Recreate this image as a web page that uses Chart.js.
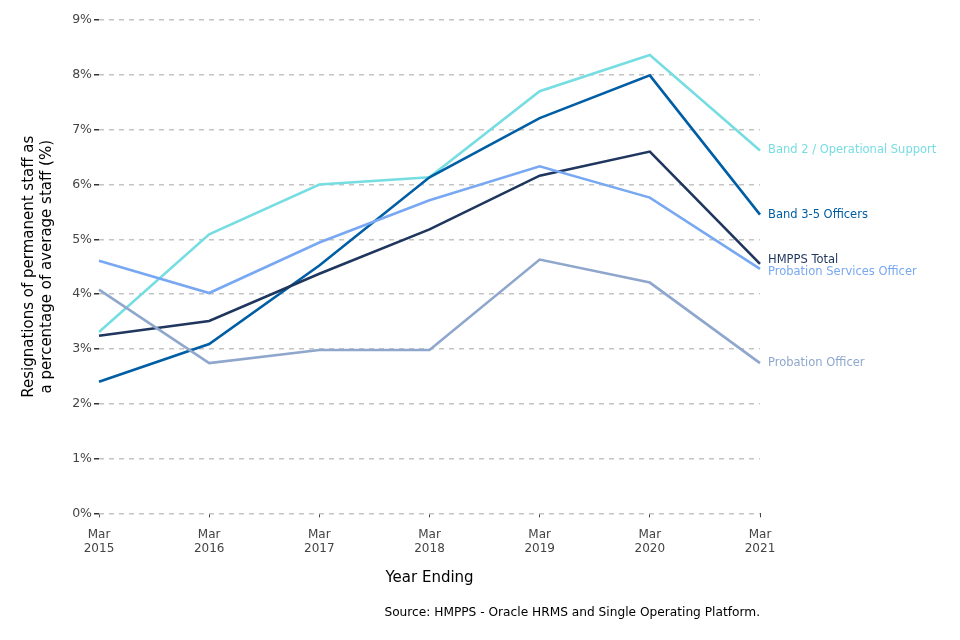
<!DOCTYPE html>
<html>
<head>
<meta charset="utf-8">
<script src="https://cdn.jsdelivr.net/npm/chart.js@4.4.0/dist/chart.umd.min.js"></script>
<style>
  html, body { margin: 0; padding: 0; background: #fff; }
  #wrap { width: 960px; height: 640px; }
</style>
</head>
<body>
<div id="wrap"><canvas id="chart"></canvas></div>
<script>
// Data
const years = [["Mar", "2015"], ["Mar", "2016"], ["Mar", "2017"], ["Mar", "2018"], ["Mar", "2019"], ["Mar", "2020"], ["Mar", "2021"]];
const band2 = [3.31, 5.09, 6.00, 6.13, 7.70, 8.36, 6.62];
const band35 = [2.40, 3.09, 4.52, 6.13, 7.21, 7.99, 5.45];
const hmppsTotal = [3.24, 3.51, 4.37, 5.18, 6.16, 6.60, 4.55];
const probServices = [4.61, 4.02, 4.94, 5.71, 6.33, 5.76, 4.46];
const probOfficer = [4.08, 2.74, 2.98, 2.98, 4.63, 4.21, 2.74];
const yTicks = [0, 1, 2, 3, 4, 5, 6, 7, 8, 9];

const FONT = "'DejaVu Sans', sans-serif";

// Series labels drawn at the end of each line, nudged apart if they overlap
const endLabels = {
  id: "endLabels",
  afterDatasetsDraw(chart) {
    const ctx = chart.ctx;
    const items = chart.data.datasets.map((ds, i) => {
      const pts = chart.getDatasetMeta(i).data;
      const last = pts[pts.length - 1];
      return { text: ds.label, color: ds.borderColor, x: last.x + 8, y: last.y };
    }).sort((a, b) => a.y - b.y);
    const gap = 12;
    for (let i = 1; i < items.length; i++) {
      if (items[i].y - items[i - 1].y < gap) {
        const mid = (items[i].y + items[i - 1].y) / 2;
        items[i - 1].y = mid - gap / 2;
        items[i].y = mid + gap / 2;
      }
    }
    ctx.save();
    ctx.font = "11.5px " + FONT;
    ctx.textBaseline = "middle";
    ctx.textAlign = "left";
    items.forEach(it => {
      ctx.fillStyle = it.color;
      ctx.fillText(it.text, it.x, it.y);
    });
    ctx.restore();
  }
};

function line(label, data, color) {
  return {
    label: label,
    data: data,
    borderColor: color,
    backgroundColor: color,
    borderWidth: 2.6,
    pointRadius: 0,
    tension: 0,
    fill: false
  };
}

new Chart(document.getElementById("chart"), {
  type: "line",
  data: {
    labels: years,
    datasets: [
      line("Probation Officer", probOfficer, "#8fa7cc"),
      line("Probation Services Officer", probServices, "#78a8f2"),
      line("HMPPS Total", hmppsTotal, "#1f365e"),
      line("Band 3-5 Officers", band35, "#005ea5"),
      line("Band 2 / Operational Support", band2, "#76dde2")
    ]
  },
  options: {
    responsive: true,
    maintainAspectRatio: false,
    animation: false,
    layout: { padding: { left: 20, right: 200, top: 20, bottom: 20 } },
    plugins: {
      legend: { display: false },
      tooltip: { enabled: false },
      subtitle: {
        display: true,
        position: "bottom",
        align: "end",
        text: "Source: HMPPS - Oracle HRMS and Single Operating Platform.",
        color: "#000",
        font: { family: FONT, size: 12.2 },
        padding: { top: 6, bottom: 0 }
      }
    },
    scales: {
      x: {
        offset: false,
        grid: { drawOnChartArea: false, drawTicks: true, tickLength: 4, tickColor: "#444" },
        border: { display: false },
        ticks: { color: "#444", font: { family: FONT, size: 12 }, padding: 10, maxRotation: 0, autoSkip: false },
        title: {
          display: true,
          text: "Year Ending",
          color: "#000",
          font: { family: FONT, size: 15 },
          padding: { top: 0, bottom: 12 }
        },
        afterFit(scale) { scale.height = 86; }
      },
      y: {
        min: 0,
        max: 9,
        afterBuildTicks(scale) { scale.ticks = yTicks.map(v => ({ value: v })); },
        grid: { color: "#c4c4c4", lineWidth: 1.5, drawTicks: true, tickLength: 5, tickColor: "#333", tickWidth: 1.5, tickBorderDash: [] },
        border: { display: false, dash: [5, 5] },
        ticks: {
          color: "#444",
          font: { family: FONT, size: 12.5 },
          padding: 2,
          callback: v => v + "%"
        },
        title: {
          display: true,
          text: ["Resignations of permanent staff as", "a percentage of average staff (%)"],
          color: "#000",
          font: { family: FONT, size: 15 },
          padding: { top: 0, bottom: 14 }
        },
        afterFit(scale) { scale.width = 79; }
      }
    }
  },
  plugins: [endLabels]
});
</script>
</body>
</html>
